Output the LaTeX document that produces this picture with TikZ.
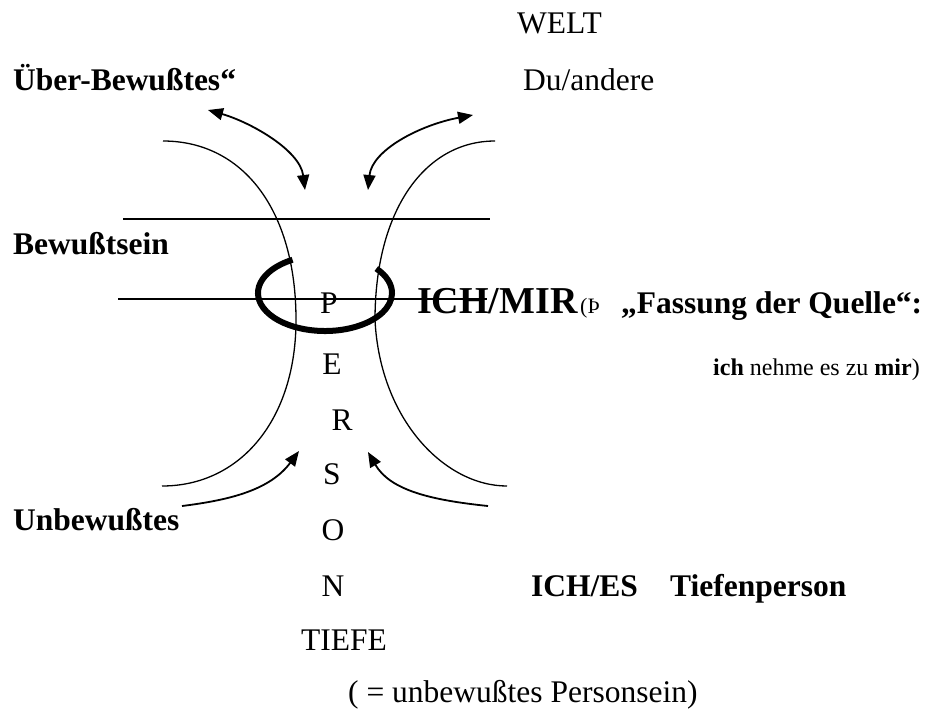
\documentclass[tikz,border=0pt]{standalone}
\usepackage{fontspec}
\setmainfont{Liberation Serif}[BoldFont={Liberation Serif Bold},ItalicFont={Liberation Serif Italic}]
\usetikzlibrary{arrows.meta}
\begin{document}
\begin{tikzpicture}[x=1pt,y=-1pt,
  txt/.style={anchor=base west,inner sep=0pt,font=\fontsize{31.5}{36}\selectfont},
  btxt/.style={anchor=base west,inner sep=0pt,font=\fontsize{31.5}{36}\selectfont\bfseries},
  letter/.style={anchor=base,inner sep=0pt,font=\fontsize{31.5}{36}\selectfont},
  thinline/.style={line width=1.3pt},
  arr/.style={line width=1.8pt,-{Triangle[length=15pt,width=12pt]}},
  darr/.style={line width=1.8pt,{Triangle[length=15pt,width=12pt]}-{Triangle[length=15pt,width=12pt]}}]
\useasboundingbox (0,0) rectangle (925,710);

% texts
\node[txt] (welt) at (517,33) {WELT};
\node[btxt] (ueber) at (13,90) {Über-Bewußtes“};
\node[txt] (du) at (523,90) {Du/andere};
\node[btxt] (bew) at (13,254) {Bewußtsein};
\node[btxt] (unbew) at (13,530) {Unbewußtes};
\node[anchor=base west,inner sep=0pt,font=\fontsize{38}{44}\selectfont\bfseries] (ichmir) at (417,313) {ICH/MIR};
\node[anchor=base west,inner sep=0pt,font=\fontsize{22}{26}\selectfont] (pf) at (580,313) {(Þ};
\node[btxt] (fass) at (621,313) {„Fassung der Quelle“:};
\node[anchor=base west,inner sep=0pt,font=\fontsize{24}{28}\selectfont] (ichn) at (713,375) {\textbf{ich} nehme es zu \textbf{mir})};
\node[btxt] (iches) at (531,596) {ICH/ES};
\node[btxt] (tiefp) at (670,596) {Tiefenperson};
\node[txt] (tiefe) at (301,650) {TIEFE};
\node[txt] (paren) at (348,702) {( = unbewußtes Personsein)};

% vertical PERSON
\node[letter] (lP) at (329,313) {P};
\node[letter] (lE) at (332,374) {E};
\node[letter] (lR) at (342,430) {R};
\node[letter] (lS) at (332,484) {S};
\node[letter] (lO) at (333,540) {O};
\node[letter] (lN) at (333,596) {N};

% coordinates
\coordinate (l1a) at (123,219);
\coordinate (l1b) at (490,219);
\coordinate (l2a) at (118,299);
\coordinate (l2b) at (487,299);
\coordinate (cl1) at (163,141);
\coordinate (cl2) at (296,320);
\coordinate (cl3) at (162,486);
\coordinate (cr1) at (495,141);
\coordinate (cr2) at (375,320);
\coordinate (cr3) at (507,486);
\coordinate (ellc) at (325,293);
\coordinate (a1s) at (208,110);
\coordinate (a1e) at (305,190);
\coordinate (a2s) at (473,115);
\coordinate (a2e) at (368,190);
\coordinate (b1s) at (182,506);
\coordinate (b1e) at (299,451);
\coordinate (b2s) at (488,506);
\coordinate (b2e) at (368,452);

% horizontal lines
\draw[thinline] (l1a) -- (l1b);
\draw[thinline] (l2a) -- (l2b);

% funnel curves
\draw[thinline] (cl1) .. controls (243,141) and (296,210) .. (cl2)
                      .. controls (296,420) and (240,486) .. (cl3);
\draw[thinline] (cr1) .. controls (425,141) and (375,210) .. (cr2)
                      .. controls (380,420) and (445,486) .. (cr3);

% thick open ellipse
\draw[line width=6pt] ([shift={(119:67pt and 38pt)}]ellc)
   arc[start angle=119,end angle=400,x radius=67pt,y radius=38pt];

% arrows
\draw[darr] (a1s) .. controls (250,122) and (300,150) .. (a1e);
\draw[darr] (a2s) .. controls (420,125) and (372,150) .. (a2e);
\draw[arr] (b1s) .. controls (230,500) and (270,490) .. (b1e);
\draw[arr] (b2s) .. controls (430,500) and (390,490) .. (b2e);
\end{tikzpicture}
\end{document}
